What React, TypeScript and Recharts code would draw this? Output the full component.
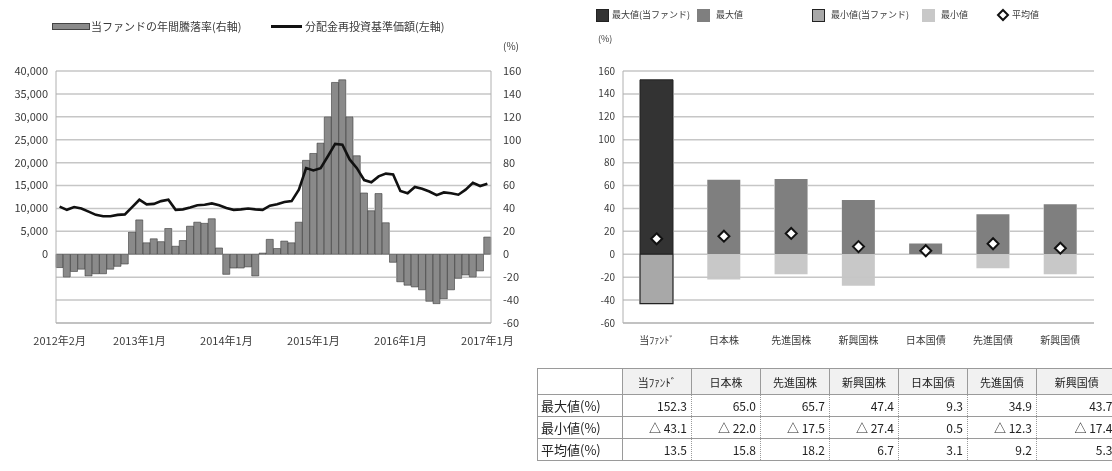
import React from 'react';
import {
  ComposedChart,
  Bar,
  Line,
  Scatter,
  Cell,
  XAxis,
  YAxis,
  ReferenceLine,
} from 'recharts';

const FONT = '"Noto Sans CJK JP", "Noto Sans", sans-serif';

// ---- left chart: monthly data, 2012/2 .. 2017/1 ----
function buildMonths(startYear: number, startMonth: number, count: number): string[] {
  const out: string[] = [];
  let y = startYear;
  let m = startMonth;
  for (let i = 0; i < count; i++) {
    out.push(`${y}年${m}月`);
    m += 1;
    if (m > 12) {
      m = 1;
      y += 1;
    }
  }
  return out;
}

const MONTHS = buildMonths(2012, 2, 60);

// 当ファンドの年間騰落率 (%), right axis
const ANNUAL_RETURN = [
  -11.6, -20, -15, -13, -19, -17, -17, -13, -10.5, -8.5,
  19.5, 30, 10, 13.5, 11, 22.5, 7, 12, 24.5, 28,
  27, 31, 5.5, -17.5, -12, -12, -11, -19, 1, 13,
  5, 11.5, 10, 28, 82, 88, 97, 120, 150, 152.3,
  120, 86, 53.5, 38, 53, 27.5, -7, -24, -27, -28.5,
  -31, -41, -43.1, -39, -31, -21, -18, -20, -14.5, 15,
];

// 分配金再投資基準価額 (円), left axis
const NAV = [
  10400, 9700, 10300, 10000, 9300, 8600, 8300, 8300, 8600, 8700,
  10300, 11900, 10900, 11000, 11600, 11900, 9700, 9800, 10200, 10700,
  10800, 11100, 10700, 10100, 9700, 9800, 10000, 9800, 9700, 10600,
  10900, 11400, 11600, 14100, 18800, 18300, 18800, 21400, 24100, 23900,
  20700, 18800, 16200, 15700, 17000, 17600, 17400, 13800, 13300, 14700,
  14300, 13700, 12900, 13500, 13300, 13000, 14100, 15600, 14900, 15400,
];

const X_LABELS = ['2012年2月', '2013年1月', '2014年1月', '2015年1月', '2016年1月', '2017年1月'];
const NAV_TICKS = [0, 5000, 10000, 15000, 20000, 25000, 30000, 35000, 40000];
const PCT_TICKS = [-60, -40, -20, 0, 20, 40, 60, 80, 100, 120, 140, 160];

// ---- right chart: asset class comparison ----
const ASSETS = ['当ﾌｧﾝﾄﾞ', '日本株', '先進国株', '新興国株', '日本国債', '先進国債', '新興国債'];
const MAX_VALUES = [152.3, 65.0, 65.7, 47.4, 9.3, 34.9, 43.7];
const MIN_VALUES = [-43.1, -22.0, -17.5, -27.4, 0.5, -12.3, -17.4];
const AVG_VALUES = [13.5, 15.8, 18.2, 6.7, 3.1, 9.2, 5.3];

const leftData = MONTHS.map((month, i) => ({
  month,
  ret: ANNUAL_RETURN[i],
  nav: NAV[i],
}));

const rightData = ASSETS.map((name, i) => ({
  name,
  up: MAX_VALUES[i],
  down: MIN_VALUES[i] < 0 ? MIN_VALUES[i] : 0,
  avg: AVG_VALUES[i],
}));

const GRID = '#c6c6c6';
const AXIS = '#b0b0b0';
const TEXT = '#3a3a3a';

// gridlines are drawn on top, "darken" blending keeps them from showing over the darker bars
const GRID_CSS = `.grid-line line { mix-blend-mode: darken; }`;

function MonthTick(props: any) {
  const { x, y, payload } = props;
  if (!X_LABELS.includes(payload.value)) return <g />;
  return (
    <text x={x} y={y} dy={14} textAnchor="middle" fontSize={11} fill={TEXT} fontFamily={FONT}>
      {payload.value}
    </text>
  );
}

function Diamond(props: any) {
  const { cx, cy } = props;
  if (cx == null || cy == null) return <g />;
  const r = 5.5;
  return (
    <polygon
      points={`${cx},${cy - r} ${cx + r},${cy} ${cx},${cy + r} ${cx - r},${cy}`}
      fill="#fff"
      stroke="#111"
      strokeWidth={2}
    />
  );
}

function fmtMin(v: number): string {
  return v < 0 ? `△ ${Math.abs(v).toFixed(1)}` : v.toFixed(1);
}

function LeftLegend() {
  return (
    <div style={{ position: 'absolute', left: 0, top: 0, width: 560, height: 60, fontFamily: FONT, fontSize: 11, color: TEXT }}>
      <div style={{ position: 'absolute', left: 52, top: 23, width: 36, height: 5, background: '#8a8a8a', border: '1px solid #444' }} />
      <div style={{ position: 'absolute', left: 91, top: 18, whiteSpace: 'nowrap' }}>当ファンドの年間騰落率(右軸)</div>
      <div style={{ position: 'absolute', left: 271, top: 25, width: 31, height: 3, background: '#111' }} />
      <div style={{ position: 'absolute', left: 305, top: 18, whiteSpace: 'nowrap' }}>分配金再投資基準価額(左軸)</div>
      <div style={{ position: 'absolute', left: 503, top: 38, fontSize: 10, whiteSpace: 'nowrap' }}>(%)</div>
    </div>
  );
}

function RightLegend() {
  const sq = (left: number, bg: string, border: string) => (
    <div style={{ position: 'absolute', left, top: 9, width: 11, height: 11, background: bg, border: `1px solid ${border}` }} />
  );
  const txt = (left: number, s: string) => (
    <div style={{ position: 'absolute', left, top: 8, whiteSpace: 'nowrap' }}>{s}</div>
  );
  return (
    <div style={{ position: 'absolute', left: 0, top: 0, width: 1112, height: 50, fontFamily: FONT, fontSize: 9, color: TEXT }}>
      {sq(596, '#333', '#222')}
      {txt(612, '最大値(当ファンド)')}
      {sq(697, '#7f7f7f', '#7f7f7f')}
      {txt(716, '最大値')}
      {sq(812, '#a8a8a8', '#222')}
      {txt(831, '最小値(当ファンド)')}
      {sq(922, '#c8c8c8', '#c8c8c8')}
      {txt(941, '最小値')}
      <svg style={{ position: 'absolute', left: 996, top: 8 }} width={14} height={14}>
        <polygon points="7,2 12,7 7,12 2,7" fill="#fff" stroke="#111" strokeWidth={2} />
      </svg>
      {txt(1012, '平均値')}
      <div style={{ position: 'absolute', left: 598, top: 32, whiteSpace: 'nowrap' }}>(%)</div>
    </div>
  );
}

function StatsTable() {
  const colW = [85, 69, 69, 69, 69, 69, 69, 80];
  const cell: React.CSSProperties = {
    borderTop: '1px solid #9a9a9a',
    borderLeft: '1px solid #9a9a9a',
    padding: 0,
    whiteSpace: 'nowrap',
  };
  const rows: { label: string; values: string[] }[] = [
    { label: '最大値(%)', values: MAX_VALUES.map((v) => v.toFixed(1)) },
    { label: '最小値(%)', values: MIN_VALUES.map(fmtMin) },
    { label: '平均値(%)', values: AVG_VALUES.map((v) => v.toFixed(1)) },
  ];
  return (
    <table
      style={{
        position: 'absolute',
        left: 537,
        top: 368,
        borderCollapse: 'collapse',
        tableLayout: 'fixed',
        width: colW.reduce((a, b) => a + b, 0),
        fontFamily: FONT,
        color: '#222',
        borderBottom: '1px solid #9a9a9a',
      }}
    >
      <colgroup>
        {colW.map((w, i) => (
          <col key={i} style={{ width: w }} />
        ))}
      </colgroup>
      <tbody>
        <tr style={{ height: 26 }}>
          <td style={{ ...cell }} />
          {ASSETS.map((a) => (
            <td key={a} style={{ ...cell, background: '#f1f1f1', textAlign: 'center', fontSize: 11 }}>
              {a}
            </td>
          ))}
        </tr>
        {rows.map((r) => (
          <tr key={r.label} style={{ height: 22 }}>
            <td style={{ ...cell, fontSize: 13, paddingLeft: 3 }}>{r.label}</td>
            {r.values.map((v, i) => (
              <td
                key={i}
                style={{
                  ...cell,
                  borderLeft: i === 0 ? '1px solid #9a9a9a' : '1px dotted #9a9a9a',
                  textAlign: 'right',
                  paddingRight: 4,
                  fontSize: 12,
                }}
              >
                {v}
              </td>
            ))}
          </tr>
        ))}
      </tbody>
    </table>
  );
}

export default function App() {
  return (
    <div
      style={{
        position: 'absolute',
        left: 0,
        top: 0,
        width: 1112,
        height: 471,
        background: '#fff',
        overflow: 'hidden',
        fontFamily: FONT,
      }}
    >
      <style>{GRID_CSS}</style>
      <LeftLegend />
      <div style={{ position: 'absolute', left: 0, top: 0 }}>
        <ComposedChart
          width={560}
          height={400}
          data={leftData}
          margin={{ top: 71, right: 0, bottom: 47, left: 0 }}
          barCategoryGap={0}
          barGap={0}
        >
          <XAxis
            dataKey="month"
            interval={0}
            tickLine={false}
            axisLine={{ stroke: AXIS }}
            tick={MonthTick}
            height={30}
          />
          <YAxis
            yAxisId="nav"
            orientation="left"
            width={56}
            domain={[-15000, 40000]}
            ticks={NAV_TICKS}
            tickFormatter={(v: number) => v.toLocaleString('en-US')}
            tickLine={false}
            tickMargin={2}
            axisLine={{ stroke: AXIS }}
            tick={{ fontSize: 11, fill: TEXT, fontFamily: FONT }}
          />
          <YAxis
            yAxisId="pct"
            orientation="right"
            width={69}
            domain={[-60, 160]}
            ticks={PCT_TICKS}
            tickLine={false}
            tickMargin={6}
            axisLine={{ stroke: AXIS }}
            tick={{ fontSize: 11, fill: TEXT, fontFamily: FONT }}
          />
          {PCT_TICKS.map((t) => (
            <ReferenceLine key={t} className="grid-line" yAxisId="pct" y={t} stroke={GRID} strokeWidth={1.5} />
          ))}
          <Bar
            yAxisId="pct"
            dataKey="ret"
            fill="#8a8a8a"
            stroke="#3a3a3a"
            strokeWidth={0.6}
            isAnimationActive={false}
          />
          <Line
            yAxisId="nav"
            dataKey="nav"
            type="linear"
            stroke="#111"
            strokeWidth={2.6}
            dot={false}
            isAnimationActive={false}
          />
        </ComposedChart>
      </div>

      <RightLegend />
      <div style={{ position: 'absolute', left: 560, top: 0 }}>
        <ComposedChart
          width={552}
          height={400}
          data={rightData}
          margin={{ top: 71, right: 18, bottom: 47, left: 0 }}
          stackOffset="sign"
        >
          <XAxis
            dataKey="name"
            tickLine={false}
            axisLine={{ stroke: AXIS }}
            tick={{ fontSize: 10, fill: TEXT, fontFamily: FONT }}
            tickMargin={8}
            height={30}
          />
          <YAxis
            width={63}
            domain={[-60, 160]}
            ticks={PCT_TICKS}
            tickLine={false}
            tickMargin={2}
            axisLine={{ stroke: AXIS }}
            tick={{ fontSize: 10, fill: TEXT, fontFamily: FONT }}
          />
          <YAxis
            yAxisId="frame"
            orientation="right"
            width={0}
            domain={[-60, 160]}
            tick={false}
            tickLine={false}
            axisLine={{ stroke: AXIS }}
          />
          {PCT_TICKS.map((t) => (
            <ReferenceLine key={t} className="grid-line" y={t} stroke={GRID} strokeWidth={1.5} />
          ))}
          <Bar dataKey="up" stackId="a" barSize={33} isAnimationActive={false}>
            {rightData.map((d, i) => (
              <Cell key={d.name} fill={i === 0 ? '#333333' : '#7f7f7f'} stroke={i === 0 ? '#222' : 'none'} />
            ))}
          </Bar>
          <Bar dataKey="down" stackId="a" barSize={33} isAnimationActive={false}>
            {rightData.map((d, i) => (
              <Cell key={d.name} fill={i === 0 ? '#a8a8a8' : '#c8c8c8'} stroke={i === 0 ? '#222' : 'none'} strokeWidth={1.2} />
            ))}
          </Bar>
          <Scatter dataKey="avg" shape={Diamond} isAnimationActive={false} />
        </ComposedChart>
      </div>

      <StatsTable />
    </div>
  );
}
